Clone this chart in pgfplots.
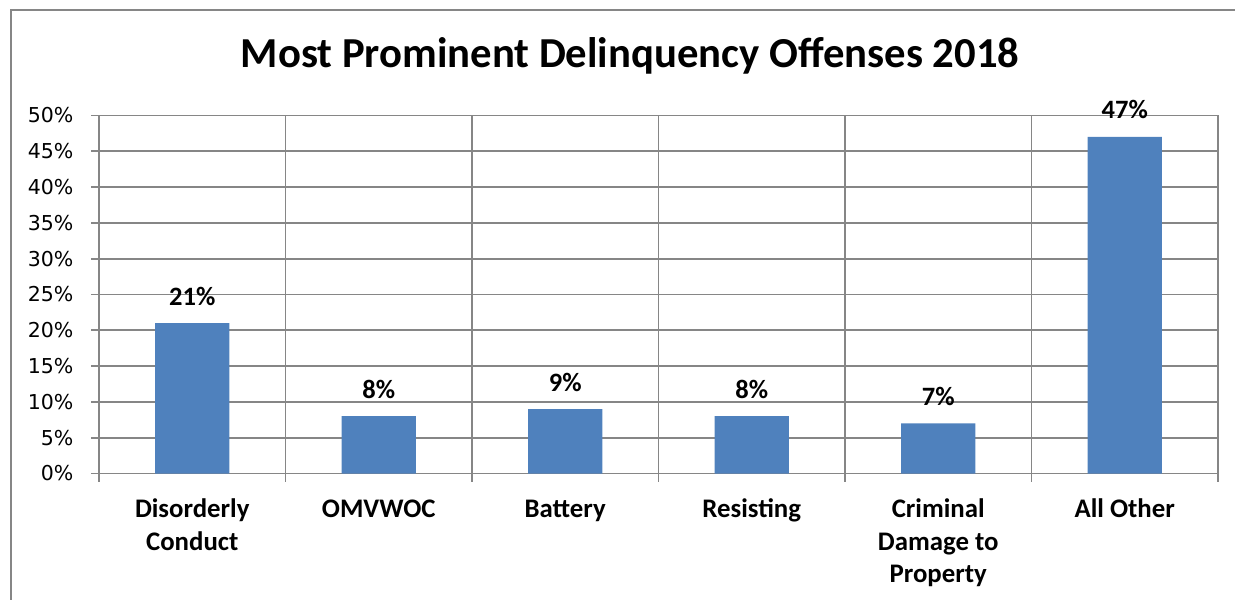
\documentclass[border=0pt]{standalone}
\usepackage{pgfplots}
\pgfplotsset{compat=1.18}
\usepackage{fontspec}
\setmainfont{Carlito}
\newfontfamily\dejavu{DejaVu Sans}
\definecolor{barblue}{RGB}{79,129,189}
\definecolor{gridgray}{RGB}{134,134,134}
\begin{document}
\begin{tikzpicture}
\path[use as bounding box] (0,0) rectangle (1235bp,600bp);
\draw[gridgray, line width=1.8bp] (11bp,-20bp) -- (11bp,590bp) -- (1260bp,590bp);
\node[anchor=base, inner sep=0pt, font=\bfseries\fontsize{42.7bp}{50bp}\selectfont] at (630bp,532bp) {Most Prominent Delinquency Offenses 2018};
\begin{axis}[
  at={(99bp,126.5bp)}, anchor=south west,
  scale only axis, width=1119bp, height=358bp,
  xmin=-0.5, xmax=5.5, ymin=0, ymax=50,
  /pgf/number format/assume math mode=true,
  ybar, bar width=0.397,
  ytick={0,5,...,50},
  yticklabels={0\%,5\%,10\%,15\%,20\%,25\%,30\%,35\%,40\%,45\%,50\%},
  yticklabel style={font=\dejavu\fontsize{20.5bp}{24bp}\selectfont, anchor=east, xshift=-14bp},
  xtick={-0.5,0.5,...,5.5},
  xticklabels={},
  extra x ticks={0,1,2,3,4,5},
  extra x tick labels={{\strut Disorderly\\Conduct}, {\strut OMVWOC}, {\strut Battery}, {\strut Resisting}, {\strut Criminal\\Damage to\\Property}, {\strut All Other}},
  extra x tick style={major tick length=0pt, grid=none,
    tick label style={font=\bfseries\fontsize{26.8bp}{32.5bp}\selectfont, align=center, anchor=north, yshift=-18bp}},
  xmajorgrids=true, ymajorgrids=true,
  tick pos=left, tick align=outside, major tick length=8bp,
  axis line style={gridgray, line width=1.8bp},
  major grid style={gridgray, line width=1.8bp},
  tick style={gridgray, line width=1.8bp},
  nodes near coords={\pgfmathprintnumber{\pgfplotspointmeta}\%},
  every node near coord/.append style={font=\bfseries\fontsize{26.5bp}{30bp}\selectfont, anchor=base, yshift=18bp, black},
]
\addplot[fill=barblue, draw=none] coordinates {(0,21) (1,8) (2,9) (3,8) (4,7) (5,47)};
\end{axis}
\end{tikzpicture}
\end{document}
